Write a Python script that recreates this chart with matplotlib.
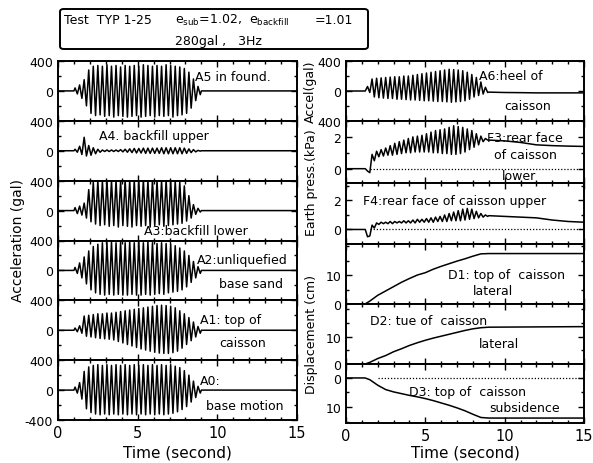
import numpy as np
import matplotlib.pyplot as plt
from matplotlib.ticker import MultipleLocator
from matplotlib.patches import FancyBboxPatch

plt.rcParams['font.family'] = 'DejaVu Sans'
plt.rcParams['font.size'] = 9

# cycle start times of the shaking (s); one up and one down peak read per cycle
period = 2 / 7
cycle_t = np.arange(1.0, 9.0, period)

# acceleration peaks per cycle (gal): up / down
a5_up = [40, 80, 150, 280, 330, 340, 330, 350, 330, 340, 320, 340, 330, 340,
         330, 350, 340, 330, 340, 330, 350, 340, 330, 320, 300, 250, 160, 60]
a5_dn = [-40, -100, -200, -300, -330, -320, -340, -330, -350, -330, -340, -350, -340, -330,
         -350, -340, -330, -350, -330, -340, -330, -350, -330, -320, -300, -230, -130, -50]
a4_up = [20, 60, 180, 70, 40, 20, 10, 10, 10, 10, 15, 20, 25, 30,
         30, 35, 35, 35, 35, 40, 40, 40, 40, 40, 35, 25, 15, 5]
a4_dn = [-20, -50, -70, -60, -40, -20, -10, -10, -10, -10, -15, -20, -25, -30,
         -30, -35, -35, -35, -35, -40, -40, -40, -40, -40, -35, -25, -15, -5]
a3_up = [40, 60, 100, 280, 380, 400, 395, 410, 400, 405, 395, 410, 400, 405,
         395, 410, 400, 405, 400, 395, 410, 400, 395, 380, 330, 200, 80, 30]
a3_dn = [-40, -60, -100, -150, -180, -200, -190, -210, -200, -220, -200, -210, -220, -200,
         -210, -200, -220, -200, -190, -210, -200, -190, -180, -170, -140, -100, -50, -20]
a2_up = [40, 100, 180, 260, 320, 350, 370, 370, 380, 370, 380, 370, 380, 370,
         380, 370, 380, 370, 360, 370, 360, 350, 330, 300, 260, 200, 120, 50]
a2_dn = [-40, -100, -180, -260, -300, -320, -330, -320, -330, -320, -330, -330, -320, -330,
         -330, -320, -330, -320, -310, -320, -300, -290, -280, -260, -220, -160, -100, -40]
a1_up = [30, 60, 190, 200, 210, 220, 220, 230, 230, 240, 250, 260, 270, 280,
         290, 300, 310, 320, 330, 335, 330, 320, 300, 260, 220, 170, 110, 50]
a1_dn = [-20, -40, -80, -90, -100, -110, -115, -120, -130, -150, -170, -190, -210, -230,
         -250, -265, -280, -295, -305, -310, -310, -300, -280, -240, -190, -140, -90, -40]
a0_up = [40, 100, 250, 310, 330, 340, 330, 340, 330, 340, 330, 340, 330, 340,
         330, 340, 330, 340, 330, 340, 330, 340, 320, 300, 260, 200, 120, 50]
a0_dn = [-40, -120, -250, -300, -320, -330, -320, -330, -320, -330, -320, -330, -320, -330,
         -320, -330, -320, -330, -320, -330, -320, -310, -290, -260, -220, -160, -100, -40]
a6_up = [0, 60, 160, 170, 175, 180, 185, 190, 190, 200, 200, 210, 220, 230,
         240, 250, 260, 270, 280, 290, 285, 280, 270, 250, 220, 180, 120, 50]
a6_dn = [0, -20, -80, -90, -95, -100, -100, -110, -110, -115, -120, -120, -125, -130,
         -130, -135, -140, -140, -145, -150, -145, -140, -130, -110, -80, -60, -40, -20]

# earth pressure peaks per cycle (kPa)
f3_up = [0, -0.15, 0.9, 1.1, 1.2, 1.3, 1.45, 1.6, 1.7, 1.8, 1.9, 2.0, 2.05, 2.1,
         2.2, 2.3, 2.4, 2.45, 2.5, 2.6, 2.7, 2.65, 2.6, 2.5, 2.4, 2.2, 2.05, 1.9]
f3_dn = [0, -0.25, 0.5, 0.75, 0.8, 0.85, 0.85, 0.9, 0.95, 1.0, 1.0, 1.05, 1.05, 1.05,
         1.05, 1.0, 1.0, 0.95, 0.95, 0.9, 0.9, 0.95, 1.05, 1.2, 1.35, 1.5, 1.7, 1.8]
f4_up = [0, -0.5, 0.3, 0.45, 0.5, 0.5, 0.55, 0.55, 0.55, 0.6, 0.6, 0.65, 0.7, 0.7,
         0.75, 0.8, 0.85, 0.9, 1.0, 1.1, 1.2, 1.3, 1.4, 1.45, 1.4, 1.25, 1.1, 1.0]
f4_dn = [0, -0.45, 0.1, 0.35, 0.4, 0.4, 0.4, 0.45, 0.45, 0.45, 0.45, 0.45, 0.5, 0.5,
         0.5, 0.5, 0.55, 0.55, 0.55, 0.6, 0.6, 0.6, 0.65, 0.7, 0.75, 0.8, 0.85, 0.9]

# residual values after shaking
tail_t = [9.0, 10.0, 11.0, 12.0, 13.0, 14.0, 15.0]
a_tail = [0, 0, 0, 0, 0, 0, 0]
a6_tail = [-15, -20, -22, -25, -25, -25, -25]
f3_tail = [1.8, 1.75, 1.65, 1.5, 1.45, 1.42, 1.4]
f4_tail = [0.95, 0.9, 0.85, 0.8, 0.65, 0.55, 0.5]

# displacements (cm)
d_t = [0, 1.2, 1.5, 2.0, 2.5, 3.0, 3.5, 4.0, 4.5, 5.0, 5.5, 6.0, 6.5, 7.0, 7.5, 8.0, 8.5, 9.0, 15.0]
d1 = [0, 0, 1.0, 3.0, 4.5, 6.0, 7.5, 8.8, 10.0, 10.8, 12.0, 13.0, 13.9, 14.8, 15.6, 16.5, 17.3, 17.4, 17.4]
d2 = [0, 0, 0.6, 2.0, 3.1, 4.5, 5.6, 6.8, 7.8, 8.7, 9.5, 10.2, 10.9, 11.6, 12.3, 12.9, 13.3, 13.5, 13.7]
d3 = [0, 0, 0.6, 2.5, 4.0, 4.8, 5.4, 6.0, 6.5, 7.1, 7.8, 8.6, 9.4, 10.3, 11.3, 12.5, 13.6, 13.8, 13.8]


def trace(up, dn, tail):
    t = [0.0, cycle_t[0]]
    v = [0.0, 0.0]
    for k in range(len(cycle_t)):
        t += [cycle_t[k] + period / 4, cycle_t[k] + 3 * period / 4]
        v += [up[k], dn[k]]
    return t + tail_t, v + list(tail)


W, H = 593, 464
fig = plt.figure(figsize=(W / 100, H / 100), dpi=100)


def fx(px):
    return px / W


def fy(py):
    return 1 - py / H


def make_ax(x0, x1, y0, y1):
    ax = fig.add_axes([fx(x0), fy(y1), fx(x1) - fx(x0), (y1 - y0) / H])
    for s in ax.spines.values():
        s.set_linewidth(1.4)
    ax.set_xlim(0, 15)
    ax.xaxis.set_major_locator(MultipleLocator(5))
    ax.xaxis.set_minor_locator(MultipleLocator(1))
    ax.tick_params(which='both', direction='in', top=True, right=True, width=1.0)
    ax.tick_params(which='major', length=4)
    ax.tick_params(which='minor', length=2.5)
    ax.tick_params(axis='x', labelbottom=False)
    return ax


# left column: accelerations
left = [(a5_up, a5_dn, 'A5 in found.', None),
        (a4_up, a4_dn, 'A4. backfill upper', None),
        (a3_up, a3_dn, 'A3:backfill lower', None),
        (a2_up, a2_dn, 'A2:unliquefied', 'base sand'),
        (a1_up, a1_dn, 'A1: top of', 'caisson'),
        (a0_up, a0_dn, 'A0:', 'base motion')]
text_pos = [(8.6, 190), (2.6, 200), (5.4, -270), (8.7, 150), (8.9, 150), (8.9, 130)]
text2_pos = [None, None, None, (10.1, -170), (10.1, -170), (9.3, -210)]

edges = np.linspace(62, 421, 7)
for i, (up, dn, lab, lab2) in enumerate(left):
    ax = make_ax(58, 297, edges[i], edges[i + 1])
    t, v = trace(up, dn, a_tail)
    ax.plot(t, v, color='black', lw=1.1)
    ax.set_ylim(-400, 400)
    ax.set_yticks([-400, 0, 400])
    ax.yaxis.set_minor_locator(MultipleLocator(200))
    if i == 5:
        ax.set_yticklabels(['-400', '0', '400'])
    else:
        ax.set_yticklabels(['', '0', '400'])
    ax.text(*text_pos[i], lab, ha='left', va='center', fontsize=9)
    if lab2:
        ax.text(*text2_pos[i], lab2, ha='left', va='center', fontsize=9)
    if i == 5:
        ax.tick_params(axis='x', labelbottom=True, labelsize=10.5)

# right column
r_edges = [62, 122, 184, 245, 305, 365, 424]

ax = make_ax(346, 584, r_edges[0], r_edges[1])
t, v = trace(a6_up, a6_dn, a6_tail)
ax.plot(t, v, color='black', lw=1.1)
ax.set_ylim(-400, 400)
ax.set_yticks([-400, 0, 400])
ax.set_yticklabels(['400', '0', '400'])
ax.yaxis.set_minor_locator(MultipleLocator(200))
ax.text(8.4, 200, 'A6:heel of', va='center')
ax.text(10.0, -190, 'caisson', va='center')

ax = make_ax(346, 584, r_edges[1], r_edges[2])
t, v = trace(f3_up, f3_dn, f3_tail)
ax.plot(t, v, color='black', lw=1.1)
ax.plot([1.5, 15], [0, 0], color='black', lw=0.9, ls=(0, (1, 1.5)))
ax.set_ylim(-0.9, 3.0)
ax.set_yticks([0, 2])
ax.yaxis.set_minor_locator(MultipleLocator(1))
ax.text(8.9, 1.95, 'F3:rear face', va='center')
ax.text(9.3, 0.9, 'of caisson', va='center')
ax.text(9.8, -0.4, 'lower', va='center')

ax = make_ax(346, 584, r_edges[2], r_edges[3])
t, v = trace(f4_up, f4_dn, f4_tail)
ax.plot(t, v, color='black', lw=1.1)
ax.plot([1.5, 15], [0, 0], color='black', lw=0.9, ls=(0, (1, 1.5)))
ax.set_ylim(-1.0, 3.2)
ax.set_yticks([0, 2])
ax.yaxis.set_minor_locator(MultipleLocator(1))
ax.text(1.1, 2.0, 'F4:rear face of caisson upper', va='center')

ax = make_ax(346, 584, r_edges[3], r_edges[4])
ax.plot(d_t, d1, color='black', lw=1.1)
ax.set_ylim(0, 20.7)
ax.set_yticks([0, 10])
ax.yaxis.set_minor_locator(MultipleLocator(5))
ax.text(6.4, 10.3, 'D1: top of  caisson', va='center')
ax.text(8.0, 4.5, 'lateral', va='center')

ax = make_ax(346, 584, r_edges[4], r_edges[5])
ax.plot(d_t, d2, color='black', lw=1.1)
ax.set_ylim(0, 22)
ax.set_yticks([0, 10])
ax.yaxis.set_minor_locator(MultipleLocator(5))
ax.text(1.5, 16.0, 'D2: tue of  caisson', va='center')
ax.text(8.4, 7.4, 'lateral', va='center')

ax = make_ax(346, 584, r_edges[5], r_edges[6])
ax.plot(d_t, d3, color='black', lw=1.1)
ax.plot([2.0, 15], [0, 0], color='black', lw=0.9, ls=(0, (1, 1.5)))
ax.set_ylim(15.5, -4.8)
ax.set_yticks([0, 10])
ax.yaxis.set_minor_locator(MultipleLocator(5))
ax.text(4.0, 4.8, 'D3: top of  caisson', va='center')
ax.text(9.0, 10.0, 'subsidence', va='center')
ax.tick_params(axis='x', labelbottom=True, labelsize=10.5)

# axis titles
fig.text(fx(18), fy(240), 'Acceleration (gal)', rotation=90, ha='center', va='center', fontsize=10)
fig.text(fx(310), fy(92), 'Accel(gal)', rotation=90, ha='center', va='center', fontsize=9)
fig.text(fx(312), fy(183), 'Earth press.(kPa)', rotation=90, ha='center', va='center', fontsize=9)
fig.text(fx(312), fy(335), 'Displacement (cm)', rotation=90, ha='center', va='center', fontsize=9)
fig.text(fx(177), fy(453), 'Time (second)', ha='center', va='center', fontsize=11)
fig.text(fx(465), fy(453), 'Time (second)', ha='center', va='center', fontsize=11)

# header box
box = FancyBboxPatch((fx(60), fy(50)), fx(368) - fx(60), (50 - 10) / H,
                     boxstyle='round,pad=0,rounding_size=0.006',
                     transform=fig.transFigure, fill=False, lw=1.4, ec='black')
fig.patches.append(box)
fig.text(fx(64), fy(20), 'Test  TYP 1-25', ha='left', va='center', fontsize=9)
fig.text(fx(175), fy(20), r'e$_{\rm sub}$=1.02,  e$_{\rm backfill}$', ha='left', va='center', fontsize=9)
fig.text(fx(315), fy(20), '=1.01', ha='left', va='center', fontsize=9)
fig.text(fx(175), fy(41), '280gal ,   3Hz', ha='left', va='center', fontsize=9)

fig.savefig('out.png', dpi=100)
